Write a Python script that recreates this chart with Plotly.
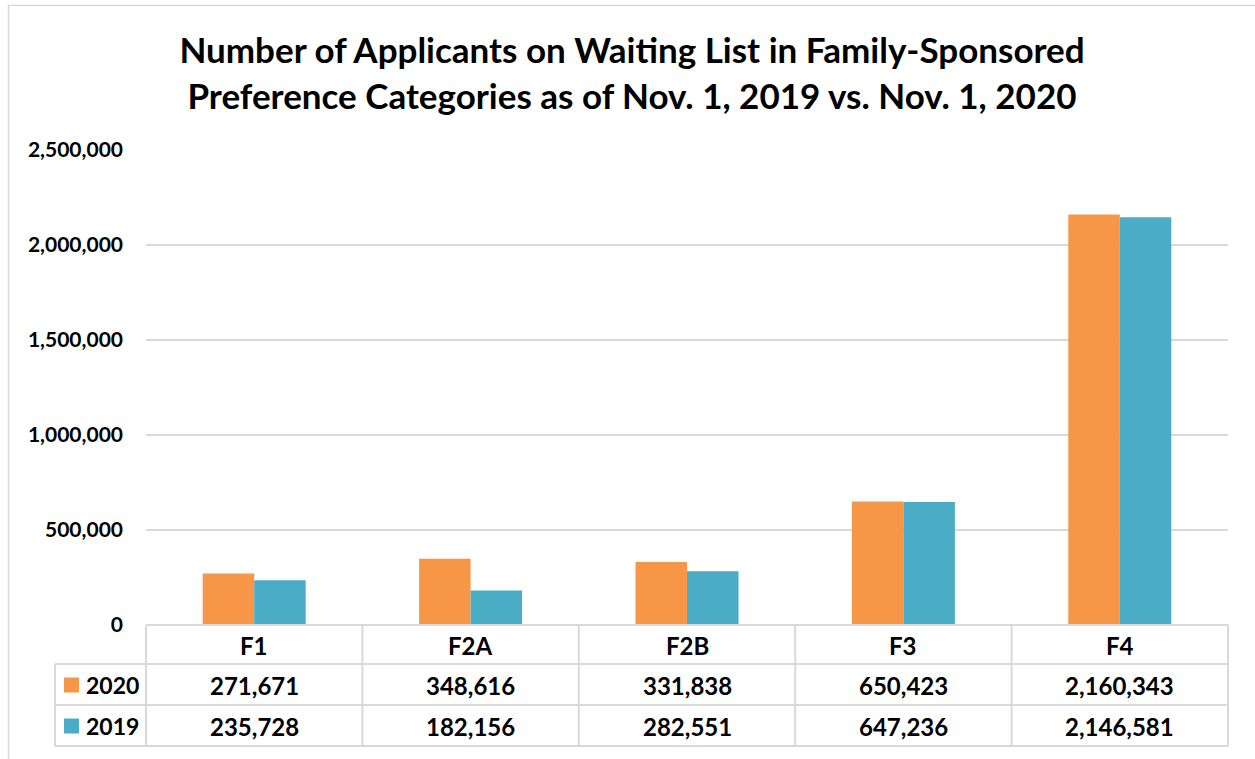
import plotly.graph_objects as go

categories = ["F1", "F2A", "F2B", "F3", "F4"]
series_names = ["2020", "2019"]
values_2020 = [271671, 348616, 331838, 650423, 2160343]
values_2019 = [235728, 182156, 282551, 647236, 2146581]
tick_vals = [0, 500000, 1000000, 1500000, 2000000, 2500000]
tick_text = ["0", "500,000", "1,000,000", "1,500,000", "2,000,000", "2,500,000"]
title_text = "Number of Applicants on Waiting List in Family-Sponsored<br>Preference Categories as of Nov. 1, 2019 vs. Nov. 1, 2020"

colors = ["#F79646", "#4BACC6"]
series_values = [values_2020, values_2019]

W, H = 1255, 759
L, R, T, B = 146, 1228, 150, 625
pw, ph = R - L, B - T
FONT = "Lato"
GRID = "#D9D9D9"
TABLE_FS = 24

def px_x(x):
    return (x - L) / pw

def px_y(y):
    return (B - y) / ph

fig = go.Figure()
for name, vals, col in zip(series_names, series_values, colors):
    fig.add_trace(go.Bar(x=categories, y=vals, name=name, marker=dict(color=col, line=dict(width=0)),
                         showlegend=False))

shapes = []
annotations = []

# table geometry (pixels)
row_y = [625, 664, 705, 746]
label_left = 55
col_edges = [L + pw * i / len(categories) for i in range(len(categories) + 1)]
line = dict(color=GRID, width=2)

# horizontal lines
shapes.append(dict(type="line", xref="paper", yref="paper", x0=0, x1=1, y0=0, y1=0, line=line))
for yy in row_y[1:]:
    shapes.append(dict(type="line", xref="paper", yref="paper", x0=px_x(label_left), x1=1,
                       y0=px_y(yy), y1=px_y(yy), line=line))
# vertical lines
shapes.append(dict(type="line", xref="paper", yref="paper", x0=px_x(label_left), x1=px_x(label_left),
                   y0=px_y(row_y[1]), y1=px_y(row_y[3]), line=line))
for xe in col_edges:
    shapes.append(dict(type="line", xref="paper", yref="paper", x0=px_x(xe), x1=px_x(xe),
                       y0=px_y(row_y[0]), y1=px_y(row_y[3]), line=line))

# outer chart border
shapes.append(dict(type="rect", xref="paper", yref="paper", x0=px_x(8.5), x1=px_x(1262),
                   y0=px_y(5.5), y1=px_y(770), line=dict(color=GRID, width=1.5)))

# header labels
for i, c in enumerate(categories):
    cx = (col_edges[i] + col_edges[i + 1]) / 2
    annotations.append(dict(x=px_x(cx), y=px_y(645.5), xref="paper", yref="paper", text=f"<b>{c}</b>",
                            showarrow=False, font=dict(family=FONT, size=TABLE_FS, color="#000000"),
                            xanchor="center", yanchor="middle"))

# value rows
for r, (name, vals, col) in enumerate(zip(series_names, series_values, colors)):
    cy = (row_y[r + 1] + row_y[r + 2]) / 2 + 0.5
    for i, v in enumerate(vals):
        cx = (col_edges[i] + col_edges[i + 1]) / 2
        annotations.append(dict(x=px_x(cx), y=px_y(cy), xref="paper", yref="paper", text=f"<b>{v:,}</b>",
                                showarrow=False, font=dict(family=FONT, size=TABLE_FS, color="#000000"),
                                xanchor="center", yanchor="middle"))
    # legend key
    shapes.append(dict(type="rect", xref="paper", yref="paper", x0=px_x(64), x1=px_x(79),
                       y0=px_y(cy - 7.5), y1=px_y(cy + 7.5), fillcolor=col, line=dict(width=0)))
    annotations.append(dict(x=px_x(84), y=px_y(cy), xref="paper", yref="paper", text=f"<b>{name}</b>",
                            showarrow=False, font=dict(family=FONT, size=23, color="#000000"),
                            xanchor="left", yanchor="middle"))

fig.update_layout(
    width=W, height=H,
    margin=dict(l=L, r=W - R, t=T, b=H - B, pad=0),
    paper_bgcolor="white", plot_bgcolor="white",
    barmode="group", bargap=0.524, bargroupgap=0,
    title=dict(text=f"<b>{title_text}</b>", x=632 / W, xref="container", xanchor="center",
               y=1 - 63 / H, yanchor="middle",
               font=dict(family=FONT, size=35, color="#000000")),
    xaxis=dict(showticklabels=False, showgrid=False, showline=False, zeroline=False, ticks=""),
    yaxis=dict(range=[0, 2500000], tickvals=tick_vals, ticktext=[f"<b>{t}</b>" for t in tick_text],
               showgrid=True, gridcolor=GRID, gridwidth=1.5, zeroline=False, showline=False,
               tickfont=dict(family=FONT, size=21, color="#000000"), ticklabelstandoff=22),
    shapes=shapes, annotations=annotations, font=dict(family=FONT),
)

fig.write_html("out.html", config={"displayModeBar": False},
               post_script="document.body.style.margin='0';")
